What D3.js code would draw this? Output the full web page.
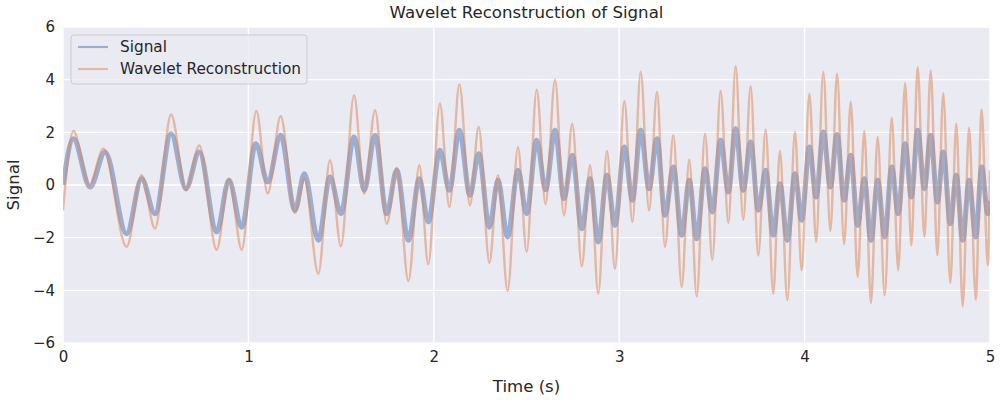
<!DOCTYPE html>
<html><head><meta charset="utf-8">
<script src="https://cdn.jsdelivr.net/npm/d3@7"></script>
<style>body{margin:0;background:#fff}svg{display:block}text{font-family:"DejaVu Sans",sans-serif;fill:#262626}</style>
</head><body><svg id="c" width="1000" height="400"></svg>
<script>
// Signal extrema (time s, value)
const signalT = [0,0.056,0.146,0.227,0.343,0.424,0.496,0.583,0.663,0.735,0.829,0.895,0.964,1.040,1.104,1.174,1.251,1.302,1.377,1.440,1.499,1.570,1.625,1.683,1.746,1.80,1.863,1.922,1.970,2.033,2.084,2.138,2.195,2.242,2.30,2.346,2.398,2.454,2.501,2.555,2.603,2.654,2.702,2.747,2.798,2.843,2.887,2.934,2.977,3.028,3.071,3.116,3.161,3.204,3.247,3.292,3.337,3.378,3.418,3.463,3.502,3.547,3.589,3.628,3.669,3.709,3.750,3.790,3.831,3.867,3.907,3.948,3.984,4.026,4.062,4.101,4.139,4.175,4.213,4.249,4.286,4.322,4.358,4.394,4.432,4.470,4.505,4.542,4.576,4.610,4.646,4.680,4.716,4.748,4.786,4.818,4.853,4.887,4.923,4.955,4.988,5.0];
const signalV = [0,1.76,-0.08,1.25,-1.85,0.24,-1.09,1.95,-0.14,1.25,-1.78,0.18,-1.6,1.57,0.11,1.89,-0.96,0.43,-2.1,0.3,-1.09,1.82,-0.2,1.89,-1.09,0.56,-2.1,0.24,-1.4,1.32,-0.2,2.08,-0.39,1.19,-1.6,0.18,-1.97,0.56,-1.09,1.7,-0.18,2.08,-0.52,1.13,-1.66,0.24,-2.16,0.37,-1.53,1.44,-0.58,2.08,-0.14,1.76,-1.15,0.68,-1.91,0.18,-2.04,0.62,-1.03,1.7,-0.27,2.14,-0.2,1.63,-0.96,0.56,-1.91,0.05,-2.1,0.43,-1.34,1.44,-0.46,2.01,-0.08,1.92,-0.58,1.13,-1.53,0.24,-2.1,0.18,-1.97,0.68,-1.09,1.57,-0.46,2.08,-0.14,1.89,-0.65,1.25,-1.47,0.37,-2.1,0.18,-1.97,0.68,-1.09,-0.6];
// Wavelet reconstruction extrema (time s, value)
const reconT = [0,0.056,0.142,0.218,0.343,0.424,0.496,0.583,0.663,0.735,0.829,0.895,0.964,1.043,1.104,1.174,1.251,1.302,1.377,1.440,1.499,1.570,1.625,1.683,1.746,1.80,1.863,1.922,1.970,2.033,2.084,2.138,2.195,2.242,2.30,2.346,2.398,2.454,2.501,2.555,2.603,2.654,2.702,2.747,2.798,2.843,2.887,2.934,2.977,3.028,3.071,3.116,3.161,3.204,3.247,3.292,3.337,3.378,3.418,3.463,3.502,3.547,3.589,3.628,3.669,3.709,3.750,3.790,3.831,3.867,3.907,3.948,3.984,4.026,4.062,4.101,4.139,4.175,4.213,4.249,4.286,4.322,4.358,4.394,4.432,4.470,4.505,4.542,4.576,4.610,4.646,4.680,4.716,4.748,4.786,4.818,4.853,4.887,4.923,4.955,4.988,5.0];
const reconV = [-0.96,2.05,0,1.38,-2.35,0.37,-1.66,2.68,-0.2,1.5,-2.46,0.24,-2.46,2.81,-0.33,2.61,-1.06,0.24,-3.37,0.94,-2.33,3.41,-0.33,2.84,-1.47,0.66,-3.65,0.75,-3.01,3.09,-0.84,3.82,-0.77,2.2,-2.96,0.37,-4.03,1.44,-2.54,3.62,-0.73,4.0,-1.15,2.33,-3.09,0.75,-4.13,1.29,-3.18,3.19,-1.4,4.29,-0.96,3.53,-2.35,1.89,-3.87,0.96,-4.23,1.95,-2.84,3.57,-1.44,4.51,-1.32,3.75,-2.68,2.1,-4.13,1.29,-4.38,2.01,-3.24,3.47,-2.16,4.29,-1.75,4.23,-2.25,3.15,-3.49,2.05,-4.48,1.82,-4.19,2.56,-3.24,3.87,-2.29,4.48,-1.97,4.35,-2.67,3.49,-3.72,2.33,-4.61,2.18,-4.35,2.86,-3.05,0.56];
const xTicks = [0,1,2,3,4,5];
const yTicks = [-6,-4,-2,0,2,4,6];
const seriesNames = ["Signal","Wavelet Reconstruction"];

const svg = d3.select("#c");
const L=63,R=990,T=27,B=343;
const x = d3.scaleLinear().domain([0,5]).range([L,R]);
const y = d3.scaleLinear().domain([-6,6]).range([B,T]);
svg.append("rect").attr("x",L).attr("y",T).attr("width",R-L).attr("height",B-T).attr("fill","#EAEAF2");
const g = svg.append("g");
g.selectAll(".gx").data(xTicks).enter().append("line").attr("x1",d=>x(d)).attr("x2",d=>x(d)).attr("y1",T).attr("y2",B).attr("stroke","#fff").attr("stroke-width",1.4);
g.selectAll(".gy").data(yTicks).enter().append("line").attr("y1",d=>y(d)).attr("y2",d=>y(d)).attr("x1",L).attr("x2",R).attr("stroke","#fff").attr("stroke-width",1.4);

const xAxis = d3.axisBottom(x).tickValues(xTicks).tickSize(0).tickPadding(8).tickFormat(d3.format("d"));
const yAxis = d3.axisLeft(y).tickValues(yTicks).tickSize(0).tickPadding(8).tickFormat(d=>d<0?"\u2212"+Math.abs(d):d);
const ax = svg.append("g").attr("transform",`translate(0,${B})`).call(xAxis);
const ay = svg.append("g").attr("transform",`translate(${L},0)`).call(yAxis);
[ax,ay].forEach(a=>{a.select(".domain").remove();a.selectAll("text").attr("font-size",15).attr("font-family","DejaVu Sans").attr("fill","#262626");});

const clip = svg.append("clipPath").attr("id","cp").append("rect").attr("x",L).attr("y",T).attr("width",R-L).attr("height",B-T);
const line = d3.line().x(d=>x(d[0])).y(d=>y(d[1])).curve(d3.curveMonotoneX);
const sig = signalT.map((t,i)=>[t,signalV[i]]);
const rec = reconT.map((t,i)=>[t,reconV[i]]);
const pg = svg.append("g").attr("clip-path","url(#cp)");
pg.append("path").datum(sig).attr("d",line).attr("fill","none").attr("stroke","#4C72B0").attr("stroke-opacity",0.5).attr("stroke-width",5).attr("stroke-linejoin","round");
pg.append("path").datum(rec).attr("d",line).attr("fill","none").attr("stroke","#DD8452").attr("stroke-opacity",0.5).attr("stroke-width",2.4).attr("stroke-linejoin","round");

// legend
const lg = svg.append("g");
lg.append("rect").attr("x",71).attr("y",35).attr("width",236).attr("height",49).attr("rx",3).attr("fill","#EAEAF2").attr("fill-opacity",0.8).attr("stroke","#cccccc").attr("stroke-width",1);
const colors=["#4C72B0","#DD8452"];
seriesNames.forEach((n,i)=>{
  const yy = 47 + i*22;
  lg.append("line").attr("x1",78).attr("x2",108).attr("y1",yy).attr("y2",yy).attr("stroke",colors[i]).attr("stroke-opacity",0.5).attr("stroke-width",2.1);
  lg.append("text").attr("x",120).attr("y",yy+5).attr("font-size",15.3).text(n);
});

svg.append("text").attr("x",(L+R)/2).attr("y",18).attr("text-anchor","middle").attr("font-size",16.6).text("Wavelet Reconstruction of Signal");
svg.append("text").attr("x",(L+R)/2).attr("y",392).attr("text-anchor","middle").attr("font-size",16.6).text("Time (s)");
svg.append("text").attr("transform",`translate(19,${(T+B)/2}) rotate(-90)`).attr("text-anchor","middle").attr("font-size",16.6).text("Signal").attr("dx",0).attr("x",0).attr("y",0).attr("transform",`translate(14,${(T+B)/2}) rotate(-90) translate(0,5)`);
</script></body></html>
